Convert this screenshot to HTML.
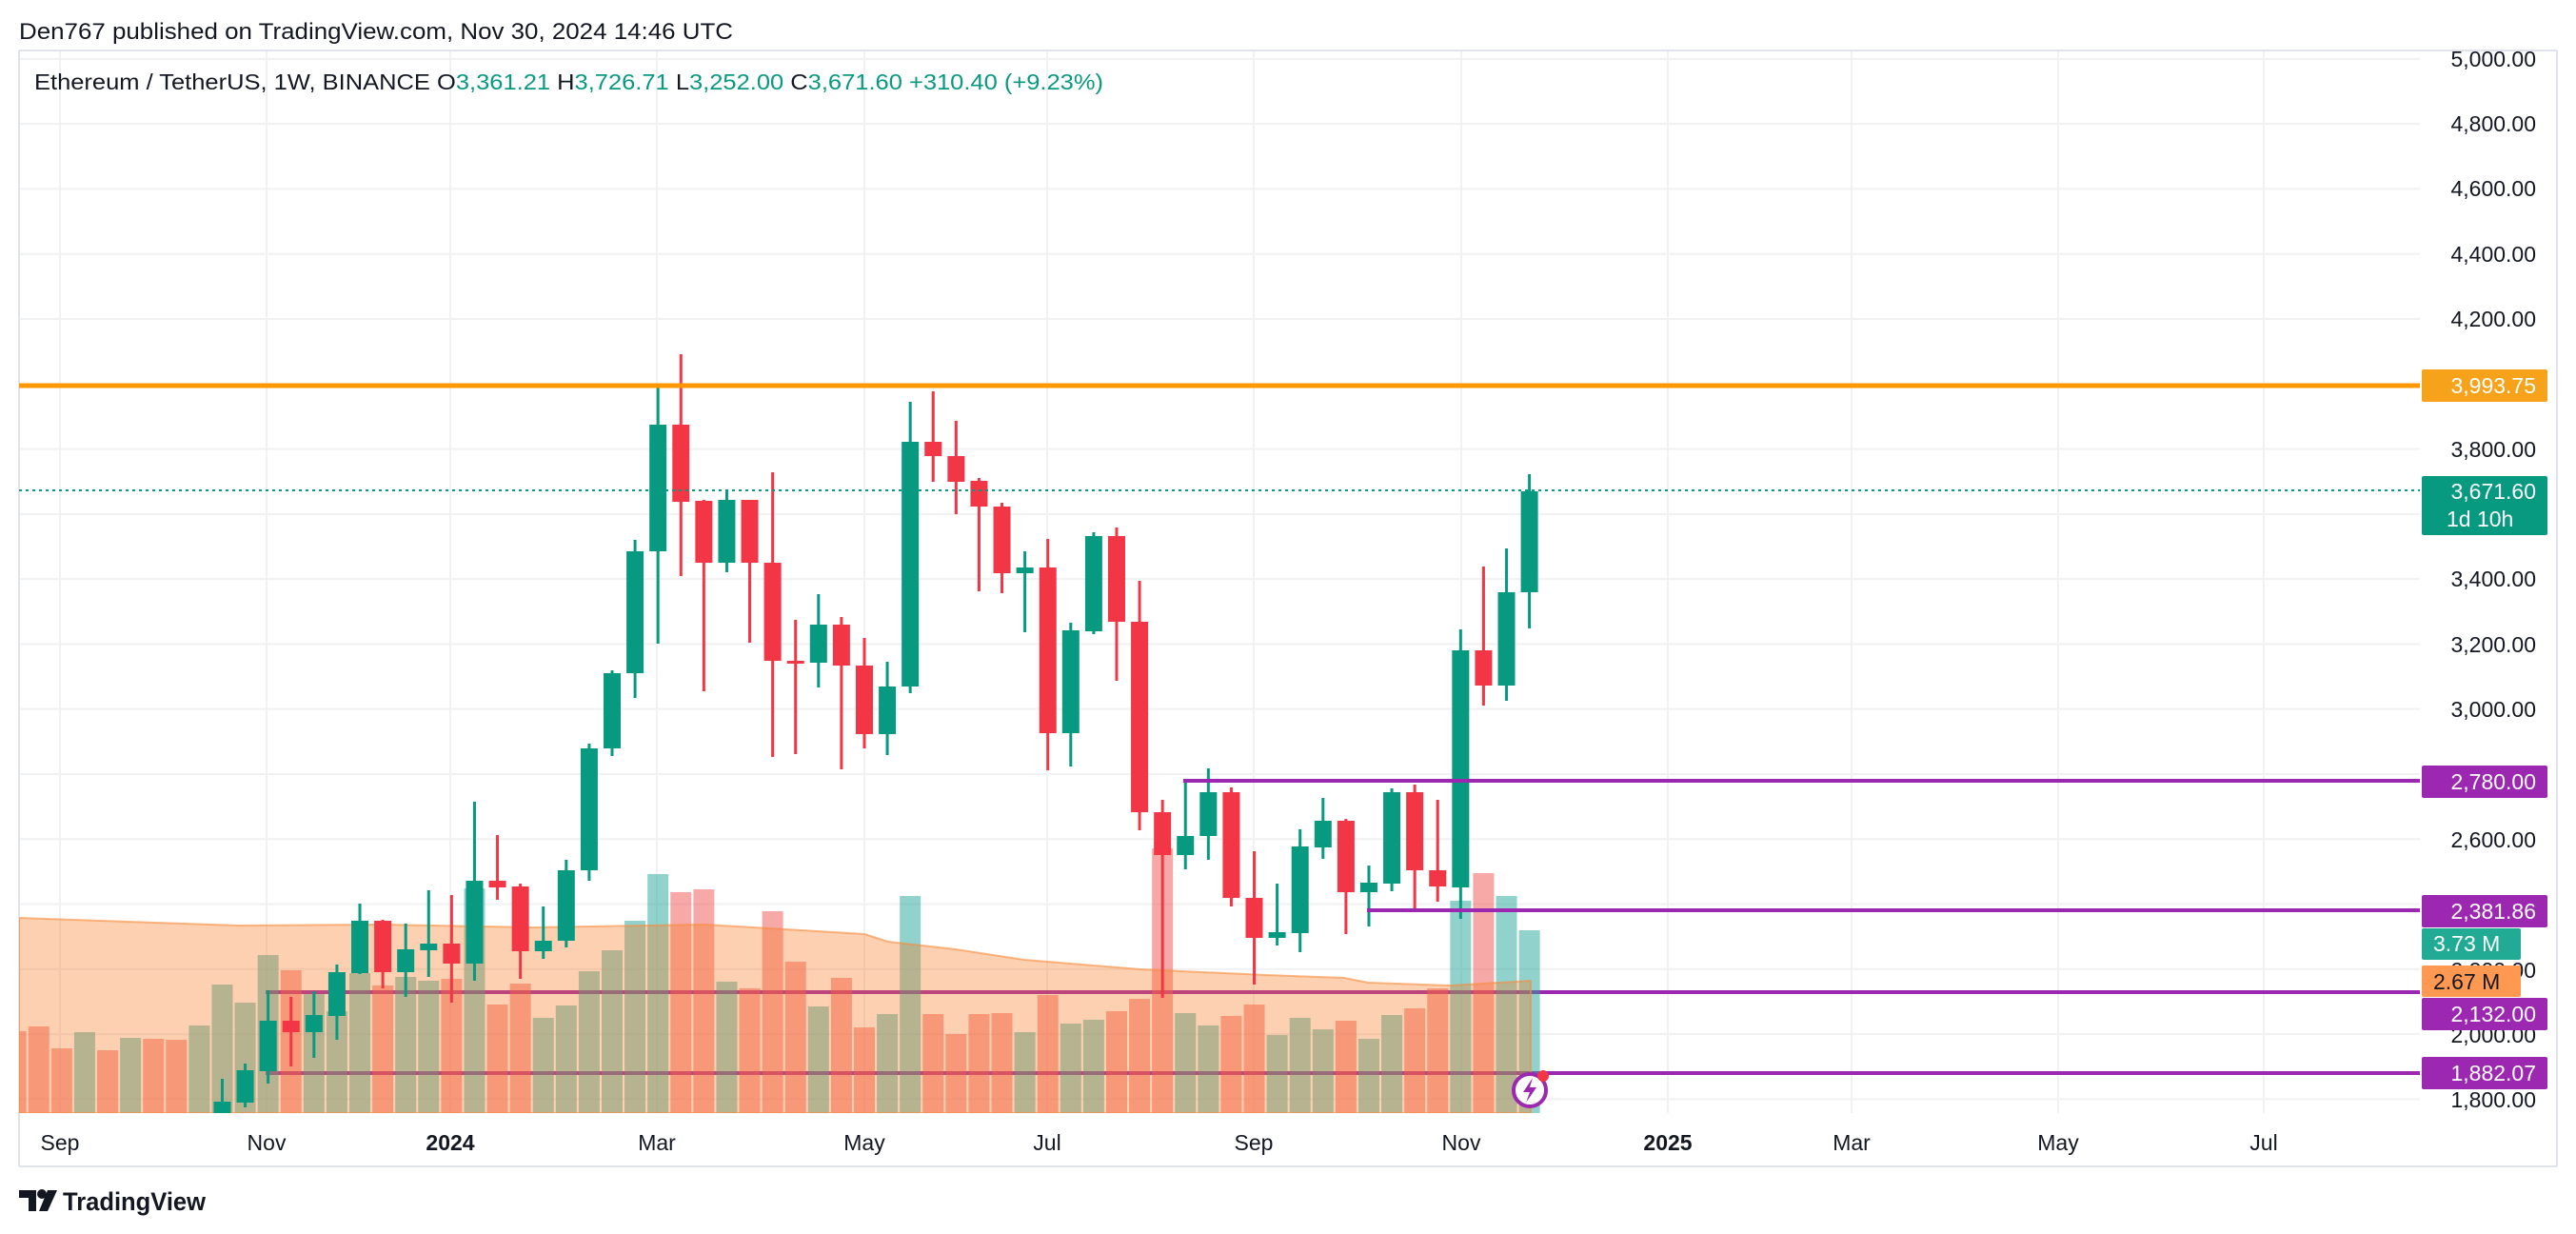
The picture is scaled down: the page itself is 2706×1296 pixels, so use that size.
<!DOCTYPE html>
<html><head><meta charset="utf-8"><style>
html,body{margin:0;padding:0;background:#fff;width:2706px;height:1296px;overflow:hidden}
svg{display:block}
text{font-family:"Liberation Sans",Arial,sans-serif}
</style></head><body>
<svg id="s" width="2706" height="1296" viewBox="0 0 2706 1296" xmlns="http://www.w3.org/2000/svg">
<defs><clipPath id="pc"><rect x="20" y="53" width="2522" height="1116"/></clipPath></defs>
<rect width="2706" height="1296" fill="#fff"/>
<text x="20" y="41" font-size="24" fill="#131722" textLength="750" lengthAdjust="spacingAndGlyphs">Den767 published on TradingView.com, Nov 30, 2024 14:46 UTC</text>
<g id="grid" stroke="#f0f1f3" stroke-width="2"></g>
<line x1="20" y1="53" x2="2686" y2="53" stroke="#e0e3eb" stroke-width="2"/>
<line x1="20" y1="53" x2="20" y2="1225" stroke="#e0e3eb" stroke-width="2"/>
<line x1="2686" y1="53" x2="2686" y2="1225" stroke="#e0e3eb" stroke-width="2"/>
<line x1="20" y1="1225" x2="2686" y2="1225" stroke="#e0e3eb" stroke-width="2"/>
<g clip-path="url(#pc)">
<line x1="279" y1="1042" x2="2542" y2="1042" stroke="#9c27b0" stroke-width="4"/>
<line x1="279" y1="1127" x2="2542" y2="1127" stroke="#9c27b0" stroke-width="4"/>
<g id="vol"></g>
<polygon fill="rgba(247,125,40,0.36)" stroke="rgba(247,140,60,0.6)" stroke-width="2" points="20,964 250,972 400,971 560,974 740,971 908,981 933,989 1004,997 1076,1008 1198,1018 1330,1024 1412,1027 1437,1032 1523,1035 1608,1030 1608,1169 20,1169"/>
<g id="cdl"></g>
<line x1="1243" y1="820" x2="2542" y2="820" stroke="#9c27b0" stroke-width="4"/>
<line x1="1436" y1="956" x2="2542" y2="956" stroke="#9c27b0" stroke-width="4"/>
<line x1="20" y1="405" x2="2542" y2="405" stroke="#ff9800" stroke-width="5"/>
<line x1="20" y1="515" x2="2542" y2="515" stroke="#089981" stroke-width="2" stroke-dasharray="3 4"/>
<circle cx="1607" cy="1145" r="17" fill="#fff" stroke="#9c27b0" stroke-width="4"/>
<path d="M1610 1132 L1600 1147 L1607 1147 L1603 1158 L1614 1142 L1607 1142 Z" fill="#9c27b0"/>
<circle cx="1621" cy="1130" r="6" fill="#f23645"/>
</g>
<text x="36" y="94" font-size="23" fill="#131722" textLength="1123" lengthAdjust="spacingAndGlyphs">Ethereum / TetherUS, 1W, BINANCE  O<tspan fill="#089981">3,361.21</tspan>  H<tspan fill="#089981">3,726.71</tspan>  L<tspan fill="#089981">3,252.00</tspan>  C<tspan fill="#089981">3,671.60</tspan>  <tspan fill="#089981">+310.40 (+9.23%)</tspan></text>
<g font-size="23" fill="#131722" text-anchor="end">
<text x="2664" y="70">5,000.00</text>
<text x="2664" y="138">4,800.00</text>
<text x="2664" y="206">4,600.00</text>
<text x="2664" y="275">4,400.00</text>
<text x="2664" y="343">4,200.00</text>
<text x="2664" y="480">3,800.00</text>
<text x="2664" y="616">3,400.00</text>
<text x="2664" y="685">3,200.00</text>
<text x="2664" y="753">3,000.00</text>
<text x="2664" y="890">2,600.00</text>
<text x="2664" y="1027">2,200.00</text>
<text x="2664" y="1095">2,000.00</text>
<text x="2664" y="1163">1,800.00</text>
</g>
<g font-size="23" fill="#131722" text-anchor="middle">
<text x="63" y="1208">Sep</text><text x="280" y="1208">Nov</text><text x="473" y="1208" font-weight="bold">2024</text>
<text x="690" y="1208">Mar</text><text x="908" y="1208">May</text><text x="1100" y="1208">Jul</text>
<text x="1317" y="1208">Sep</text><text x="1535" y="1208">Nov</text><text x="1752" y="1208" font-weight="bold">2025</text>
<text x="1945" y="1208">Mar</text><text x="2162" y="1208">May</text><text x="2378" y="1208">Jul</text>
</g>
<g font-size="23" fill="#fff">
<rect x="2544" y="388" width="132" height="34" rx="2" fill="#f7a21b"/><text x="2664" y="413" text-anchor="end">3,993.75</text>
<rect x="2544" y="500" width="132" height="62" rx="2" fill="#089981"/><text x="2664" y="524" text-anchor="end">3,671.60</text><text x="2570" y="553">1d 10h</text>
<rect x="2544" y="804" width="132" height="34" rx="2" fill="#9c27b0"/><text x="2664" y="829" text-anchor="end">2,780.00</text>
<rect x="2544" y="940" width="132" height="34" rx="2" fill="#9c27b0"/><text x="2664" y="965" text-anchor="end">2,381.86</text>
<rect x="2544" y="975" width="104" height="33" rx="2" fill="#22ab94"/><text x="2556" y="999">3.73 M</text>
<rect x="2544" y="1014" width="104" height="33" rx="2" fill="#ff9850"/><text x="2556" y="1039" fill="#131722">2.67 M</text>
<rect x="2544" y="1048" width="132" height="34" rx="2" fill="#9c27b0"/><text x="2664" y="1073" text-anchor="end">2,132.00</text>
<rect x="2544" y="1110" width="132" height="34" rx="2" fill="#9c27b0"/><text x="2664" y="1135" text-anchor="end">1,882.07</text>
</g>
<g fill="#131722">
<path d="M20 1250 h18 v22 h-8 v-14 h-10z"/>
<circle cx="44" cy="1254" r="5"/>
<path d="M50 1250 h10 l-10 22 h-9z"/>
<text x="66" y="1271" font-size="27" font-weight="bold" textLength="150" lengthAdjust="spacingAndGlyphs">TradingView</text>
</g>
</svg>
<script>
var NS="http://www.w3.org/2000/svg";
function el(p,t,a){var e=document.createElementNS(NS,t);for(var k in a)e.setAttribute(k,a[k]);p.appendChild(e);return e;}
var g=document.getElementById("grid");
for(var p=1800;p<=5000;p+=200){var y=405.4+(3993.75-p)*0.3414;el(g,"line",{x1:20,y1:y,x2:2542,y2:y});}
[63,280,473,690,908,1100,1317,1535,1752,1945,2162,2378].forEach(function(x){el(g,"line",{x1:x,y1:53,x2:x,y2:1169});});
var C=[[57,1180,1157,1133,1190],[56,1158,1124,1117,1163],[55,1125,1072,1040,1138],[54,1072,1084,1047,1120],[53,1084,1066,1041,1111],[52,1067,1021,1013,1092],[51,1022,967,949,1023],[50,967,1021,966,1038],[49,1021,997,970,1047],[48,998,991,935,1026],[47,991,1012,940,1053],[46,1012,925,842,1030],[45,925,932,877,945],[44,931,999,928,1028],[43,999,988,952,1007],[42,988,914,903,995],[41,914,786,781,925],[40,786,707,704,794],[39,707,579,567,733],[38,579,446,405,676],[37,446,527,372,605],[36,526,591,525,726],[35,591,525,514,601],[34,525,591,525,675],[33,591,694,496,795],[32,694,697,651,792],[31,696,656,624,722],[30,656,699,648,808],[29,699,771,670,786],[28,771,721,695,793],[27,721,464,422,728],[26,464,479,411,506],[25,479,506,442,540],[24,505,532,502,621],[23,532,602,528,623],[22,602,596,579,664],[21,596,770,566,809],[20,770,662,654,805],[19,663,563,559,666],[18,563,653,554,715],[17,653,853,610,872],[16,853,898,840,1048],[15,898,878,820,913],[14,878,832,807,903],[13,832,943,827,952],[12,943,985,894,1034],[11,985,979,928,993],[10,980,889,871,1000],[9,890,862,838,902],[8,862,937,860,981],[7,937,927,909,973],[6,928,832,828,936],[5,832,914,824,956],[4,914,931,840,947],[3,932,683,661,965],[2,683,720,595,741],[1,720,622,576,736],[0,622,516,498,660]];
var col={};
var cg=document.getElementById("cdl");
C.forEach(function(c){var x=1606.6-24.09*c[0];var up=c[2]<c[1];col[c[0]]=up;var f=up?"#089981":"#f23645";
el(cg,"rect",{x:x-1.5,y:c[3],width:3,height:c[4]-c[3],fill:f});
var t=Math.min(c[1],c[2]),b=Math.max(c[1],c[2]);if(b-t<3){t-=1.5;b+=1.5;}
el(cg,"rect",{x:x-9,y:t,width:18,height:b-t,fill:f});});
var V={66:[0,1083],65:[0,1078],64:[0,1101],63:[1,1084],62:[0,1103],61:[1,1090],60:[0,1091],59:[0,1092],58:[1,1077]};
var vt={57:1034,56:1053,55:1003,54:1019,53:1044,52:1062,51:1022,50:1035,49:1026,48:1030,47:1028,46:933,45:1055,44:1033,43:1069,42:1056,41:1020,40:998,39:967,38:918,37:937,36:934,35:1031,34:1038,33:957,32:1010,31:1057,30:1027,29:1079,28:1065,27:941,26:1065,25:1086,24:1065,23:1064,22:1084,21:1045,20:1075,19:1071,18:1062,17:1049,16:891,15:1064,14:1077,13:1067,12:1055,11:1087,10:1069,9:1081,8:1072,7:1091,6:1066,5:1059,4:1038,3:946,2:917,1:941,0:977};
for(var k in vt)V[k]=[col[k]?1:0,vt[k]];
var vg=document.getElementById("vol");
for(var k in V){var x=1606.6-24.09*k;var v=V[k];
el(vg,"rect",{x:x-11,y:v[1],width:22,height:1169-v[1],fill:v[0]?"rgba(38,166,154,0.5)":"rgba(239,83,80,0.5)"});}
</script>
</body></html>
